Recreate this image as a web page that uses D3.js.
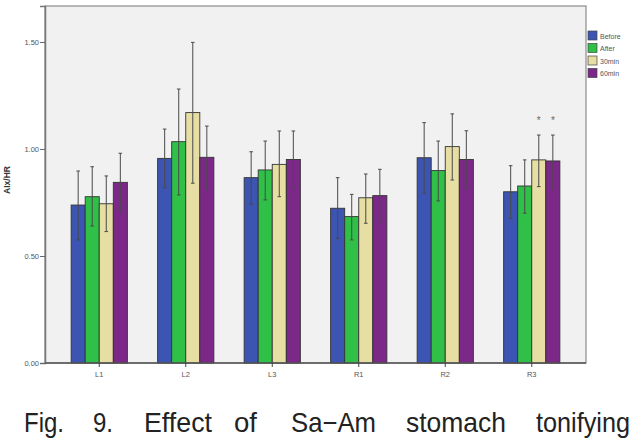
<!DOCTYPE html>
<html>
<head>
<meta charset="utf-8">
<script src="https://cdn.jsdelivr.net/npm/d3@7"></script>
<style>
  html, body { margin: 0; padding: 0; background: #fff; }
  svg { display: block; }
</style>
</head>
<body>
<svg id="chart" width="638" height="448"></svg>
<script>
// data
const categories = ['L1', 'L2', 'L3', 'R1', 'R2', 'R3'];
const seriesNames = ['Before', 'After', '30min', '60min'];
const before = [0.738, 0.956, 0.866, 0.723, 0.959, 0.800];
const after = [0.777, 1.034, 0.902, 0.684, 0.899, 0.827];
const min30 = [0.744, 1.170, 0.928, 0.772, 1.011, 0.949];
const min60 = [0.844, 0.961, 0.951, 0.782, 0.951, 0.944];
const beforeLo = [0.575, 0.819, 0.741, 0.582, 0.792, 0.676];
const beforeHi = [0.897, 1.093, 0.987, 0.866, 1.123, 0.922];
const afterLo = [0.640, 0.785, 0.762, 0.575, 0.757, 0.700];
const afterHi = [0.917, 1.280, 1.037, 0.788, 1.037, 0.949];
const min30Lo = [0.614, 0.840, 0.777, 0.653, 0.855, 0.824];
const min30Hi = [0.874, 1.498, 1.084, 0.883, 1.164, 1.065];
const min60Lo = [0.707, 0.808, 0.819, 0.660, 0.813, 0.816];
const min60Hi = [0.980, 1.107, 1.084, 0.905, 1.085, 1.065];
const yTicks = [0.0, 0.5, 1.0, 1.5];
// significance marks: [category, series]
const starred = [['R3', 2], ['R3', 3]];
const captionWords = ['Fig.', '9.', 'Effect', 'of', 'Sa\u2212Am', 'stomach', 'tonifying'];

const colors = ['#3c54b2', '#30c048', '#e6dea2', '#7c2888'];
const means = [before, after, min30, min60];
const lows = [beforeLo, afterLo, min30Lo, min60Lo];
const highs = [beforeHi, afterHi, min30Hi, min60Hi];

const svg = d3.select('#chart');
const plot = { left: 45, right: 586, top: 6, bottom: 363 };

const y = d3.scaleLinear().domain([0, 1.668]).range([plot.bottom, plot.top]);
const x = d3.scaleBand().domain(categories).range([56, 575]);
const groupW = x.bandwidth() * 0.65;
const xs = d3.scaleBand().domain(d3.range(seriesNames.length)).range([0, groupW]);

// plot background + frame
svg.append('rect')
  .attr('x', plot.left).attr('y', plot.top)
  .attr('width', plot.right - plot.left).attr('height', plot.bottom - plot.top)
  .attr('fill', '#f1f1f1').attr('stroke', '#8a8a8a').attr('stroke-width', 1.2);

// axes
const yAxis = d3.axisLeft(y).tickValues(yTicks).tickFormat(d3.format('.2f')).tickSize(5);
const gy = svg.append('g').attr('transform', `translate(${plot.left},0)`).call(yAxis);
gy.select('.domain').attr('stroke', '#777').attr('stroke-width', 1.5);
gy.selectAll('.tick line').attr('stroke', '#666');
gy.selectAll('.tick text').attr('fill', '#555').attr('font-family', 'Arial, Liberation Sans, sans-serif')
  .attr('font-size', 7.5).attr('x', -6);

const xAxis = d3.axisBottom(x).tickSize(4).tickSizeOuter(0);
const gx = svg.append('g').attr('transform', `translate(0,${plot.bottom})`).call(xAxis);
gx.select('.domain').attr('d', `M${plot.left},0H${plot.right}`).attr('stroke', '#555').attr('stroke-width', 1.5);
gx.selectAll('.tick line').attr('stroke', '#444');
gx.selectAll('.tick text').attr('fill', '#555').attr('font-family', 'Arial, Liberation Sans, sans-serif')
  .attr('font-size', 7.5).attr('y', 9);

// bars
const barData = [];
means.forEach((serie, s) => {
  serie.forEach((v, i) => {
    barData.push({ cat: categories[i], s, v, lo: lows[s][i], hi: highs[s][i] });
  });
});
const barX = d => x(d.cat) + (x.bandwidth() - groupW) / 2 + xs(d.s);

svg.append('g').selectAll('rect')
  .data(barData)
  .join('rect')
  .attr('x', barX)
  .attr('y', d => y(d.v))
  .attr('width', xs.bandwidth())
  .attr('height', d => y(0) - y(d.v))
  .attr('fill', d => colors[d.s])
  .attr('stroke', '#333')
  .attr('stroke-width', 0.9);

gx.raise();

// error bars
const eb = svg.append('g').attr('stroke', '#4a4a4a').attr('stroke-width', 1);
const cx = d => barX(d) + xs.bandwidth() / 2;
eb.selectAll('line.v').data(barData).join('line')
  .attr('class', 'v')
  .attr('x1', cx).attr('x2', cx)
  .attr('y1', d => y(d.lo)).attr('y2', d => y(d.hi));
eb.selectAll('line.t').data(barData).join('line')
  .attr('class', 't')
  .attr('x1', d => cx(d) - 1.8).attr('x2', d => cx(d) + 1.8)
  .attr('y1', d => y(d.hi)).attr('y2', d => y(d.hi));
eb.selectAll('line.b').data(barData).join('line')
  .attr('class', 'b')
  .attr('x1', d => cx(d) - 1.8).attr('x2', d => cx(d) + 1.8)
  .attr('y1', d => y(d.lo)).attr('y2', d => y(d.lo));

// asterisks
svg.append('g').selectAll('text')
  .data(starred)
  .join('text')
  .attr('x', d => cx({ cat: d[0], s: d[1] }))
  .attr('y', d => y(highs[d[1]][categories.indexOf(d[0])]) - 11)
  .attr('text-anchor', 'middle')
  .attr('font-family', 'Arial, Liberation Sans, sans-serif')
  .attr('font-size', 10)
  .attr('fill', '#666')
  .text('*');

// y label
svg.append('text')
  .attr('transform', 'translate(10,180) rotate(-90)')
  .attr('text-anchor', 'middle')
  .attr('font-family', 'Arial, Liberation Sans, sans-serif')
  .attr('font-weight', 'bold')
  .attr('font-size', 8.5)
  .attr('fill', '#333')
  .text('AIx/HR');

// legend
const lg = svg.append('g').attr('transform', 'translate(588,31)');
seriesNames.forEach((name, s) => {
  const row = lg.append('g').attr('transform', `translate(0,${s * 12.5})`);
  row.append('rect').attr('width', 9).attr('height', 9)
    .attr('fill', colors[s]).attr('stroke', '#444').attr('stroke-width', 0.7);
  row.append('text').attr('x', 12).attr('y', 7.5)
    .attr('font-family', 'Arial, Liberation Sans, sans-serif')
    .attr('font-size', 7).attr('fill', '#555').text(name);
});

// caption (justified words, widths taken from the figure)
const wordX = [24, 93, 144, 234, 291, 406, 536];
const wordW = [40, 20, 68, 23, 85, 100, 94];
svg.append('g').selectAll('text')
  .data(captionWords)
  .join('text')
  .attr('x', (d, i) => wordX[i])
  .attr('y', 432)
  .attr('font-family', '"Liberation Sans Narrow", "Liberation Sans", Arial, sans-serif')
  .attr('font-size', 28)
  .attr('fill', '#222')
  .attr('textLength', (d, i) => wordW[i])
  .attr('lengthAdjust', 'spacingAndGlyphs')
  .text(d => d);
</script>
</body>
</html>
